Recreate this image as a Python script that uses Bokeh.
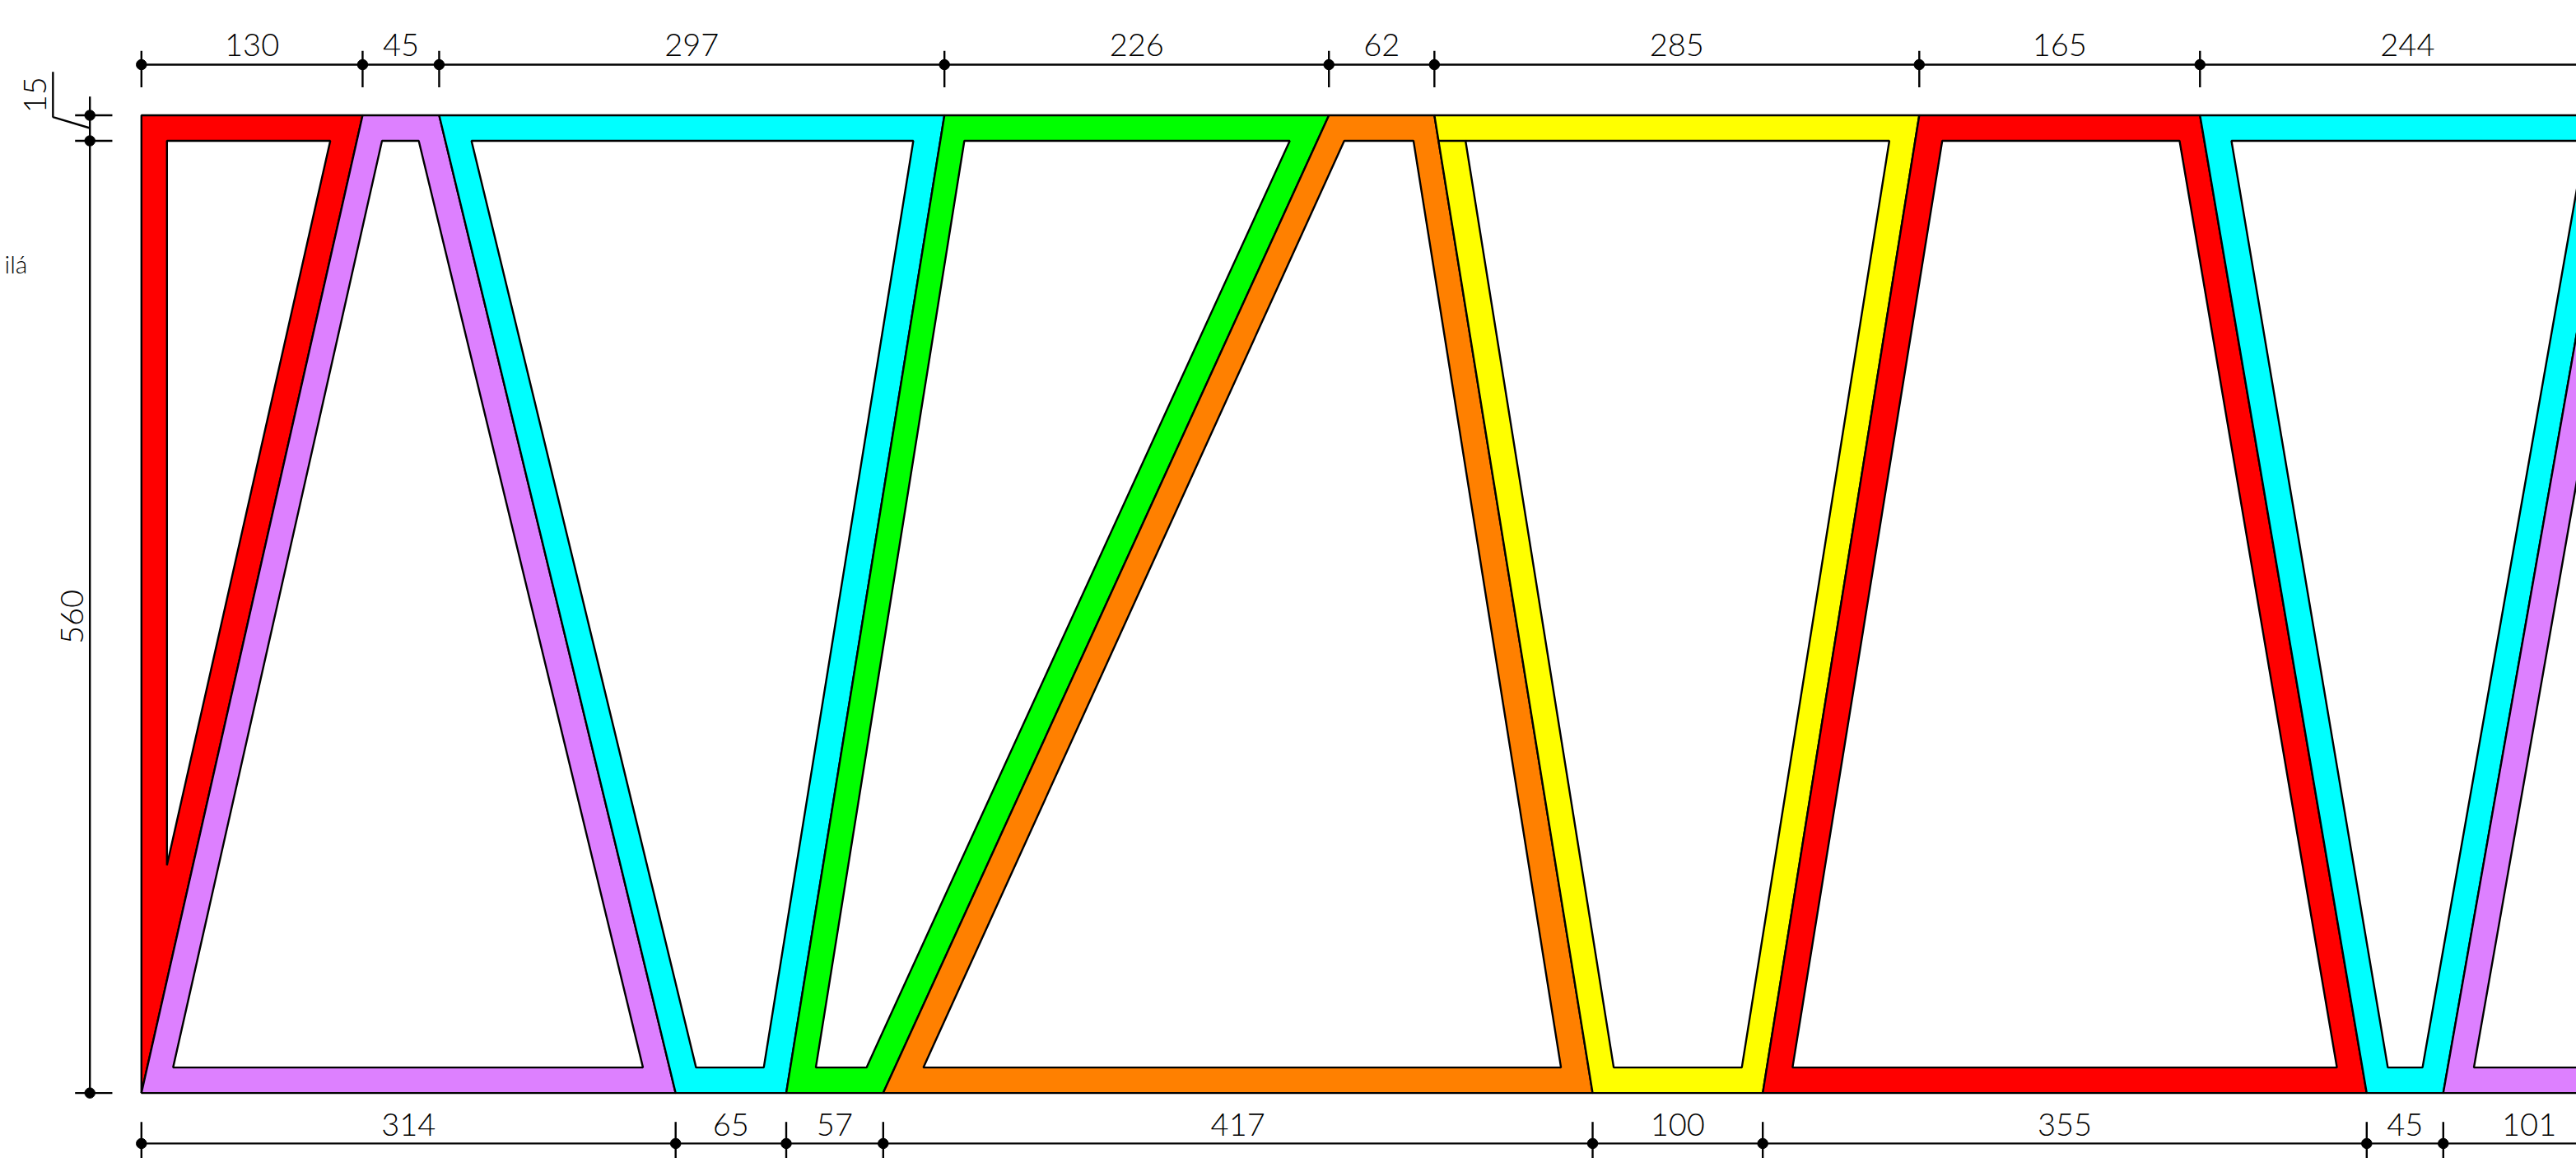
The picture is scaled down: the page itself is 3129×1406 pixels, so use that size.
from bokeh.plotting import figure
from bokeh.embed import file_html
from bokeh.resources import INLINE
from bokeh.core.properties import value
import numpy as np

top_dims = [130, 45, 297, 226, 62, 285, 165, 244]
bottom_dims = [314, 65, 57, 417, 100, 355, 45, 101]
height_total = 575
chord = 15
web_dim = 560

colors = ["#ff0000", "#dd80ff", "#00ffff", "#00ff00", "#ff8000", "#ffff00", "#ff0000", "#00ffff", "#dd80ff"]

# Outer outlines of the members, in mm
outer_x = [
    [0, 130, 0],
    [0, 130, 175, 314],
    [175, 472, 379, 314],
    [472, 698, 436, 379],
    [698, 760, 853, 436],
    [760, 1045, 953, 853],
    [1045, 1210, 1308, 953],
    [1210, 1454, 1353, 1308],
    [1353, 1454, 1600, 1600],
]
outer_y = [
    [575, 575, 0],
    [0, 575, 575, 0],
    [575, 575, 0, 0],
    [575, 575, 0, 0],
    [575, 575, 0, 0],
    [575, 575, 0, 0],
    [575, 575, 0, 0],
    [575, 575, 0, 0],
    [0, 575, 575, 0],
]
# Openings inside the members, in mm
hole_x = [
    [15, 111, 15],
    [18.6, 294.8, 163, 141.4],
    [194, 453.7, 365.8, 326],
    [483.7, 675, 426.2, 396.4],
    [707, 747.7, 834.4, 459.6],
    [778.3, 1027.4, 940.7, 865.4],
    [1058.5, 1198, 1290.5, 970.5],
    [1228.5, 1436.5, 1340.8, 1320.4],
    [1371, 1466.6, 1600, 1600],
]
hole_y = [
    [560, 560, 134],
    [15, 15, 560, 560],
    [560, 560, 15, 15],
    [560, 560, 15, 15],
    [560, 560, 15, 15],
    [560, 560, 15, 15],
    [560, 560, 15, 15],
    [560, 560, 15, 15],
    [15, 560, 560, 15],
]

SX, SY = 2.0665, 2.0645
X0, Y0 = 171.3, 1326.6
W, H = 3129, 1406

p = figure(width=W, height=H, output_backend="svg", toolbar_location=None,
           x_range=(-X0 / SX, (W - X0) / SX),
           y_range=((Y0 - H) / SY, Y0 / SY),
           x_axis_type=None, y_axis_type=None, min_border=0,
           outline_line_color=None, background_fill_color="white", border_fill_color="white")
p.grid.visible = False

xs = [[[ox, hx]] for ox, hx in zip(outer_x, hole_x)]
ys = [[[oy, hy]] for oy, hy in zip(outer_y, hole_y)]
p.multi_polygons(xs=xs, ys=ys, fill_color=colors, line_color="black", line_width=2.4)

# short closing line at the yellow member's inner chord
p.line([762.5, 778.3], [560, 560], line_color="black", line_width=2.4)

FONT = value("Lato Light")
FS = "38px"
LW = 2.4

def chain(dims, y, t0, t1, ty):
    pos = np.concatenate([[0], np.cumsum(dims)])
    p.line([pos[0], pos[-1]], [y, y], line_color="black", line_width=LW)
    p.segment(pos, [t0] * len(pos), pos, [t1] * len(pos), line_color="black", line_width=LW)
    p.scatter(pos, [y] * len(pos), size=12.5, color="black")
    mids = (pos[:-1] + pos[1:]) / 2
    p.text(mids, [ty] * len(mids), text=[str(d) for d in dims], text_align="center",
           text_baseline="middle", text_font=FONT, text_font_size=FS, text_color="black")

chain(top_dims, 604.8, 591.5, 612.9, 616.3)
chain(bottom_dims, -29.7, -17, -38.5, -18.4)

# left dimension
dx = -30.3
lv = [0, web_dim, height_total]
p.line([dx, dx], [0, 586], line_color="black", line_width=LW)
p.segment([dx - 8.7] * 3, lv, [dx + 13.2] * 3, lv, line_color="black", line_width=LW)
p.scatter([dx] * 3, lv, size=12.5, color="black")
p.text([(87 - X0) / SX], [web_dim / 2], text=[str(web_dim)], angle=np.pi / 2, text_align="center",
       text_baseline="middle", text_font=FONT, text_font_size=FS, text_color="black")

# leader of the chord dimension
p.line([-52, -52, dx], [600.5, 574, 567.5], line_color="black", line_width=LW)
p.text([(42 - X0) / SX], [587], text=[str(chord)], angle=np.pi / 2, text_align="center",
       text_baseline="middle", text_font=FONT, text_font_size=FS, text_color="black")
p.text([-67.0], [488], text=["ilá"], text_align="right", text_baseline="middle",
       text_font=FONT, text_font_size="30px", text_color="black")

open("out.html", "w").write(file_html(p, INLINE))
